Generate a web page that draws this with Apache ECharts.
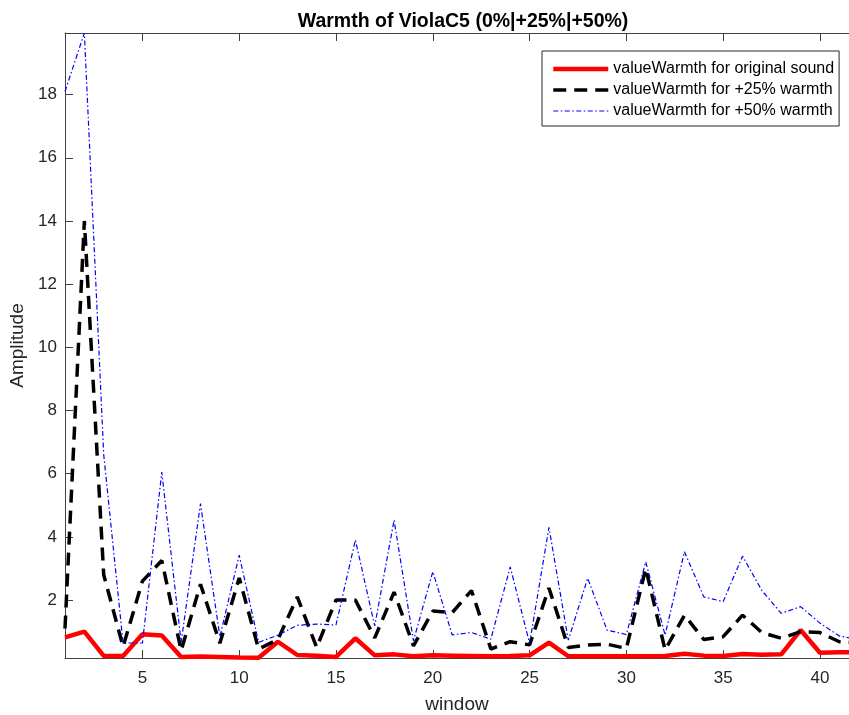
<!DOCTYPE html>
<html>
<head>
<meta charset="utf-8">
<script src="https://cdn.jsdelivr.net/npm/echarts@6/dist/echarts.min.js"></script>
<style>html,body{margin:0;padding:0;background:#fff}#c{width:849px;height:715px}</style>
</head>
<body>
<div id="c"></div>
<script>
const windows = [1,2,3,4,5,6,7,8,9,10,11,12,13,14,15,16,17,18,19,20,21,22,23,24,25,26,27,28,29,30,31,32,33,34,35,36,37,38,39,40,41,42];
const original = [0.82,1.0,0.23,0.23,0.92,0.88,0.2,0.21,0.2,0.18,0.17,0.68,0.26,0.24,0.2,0.79,0.25,0.28,0.22,0.25,0.24,0.23,0.22,0.23,0.25,0.65,0.22,0.22,0.22,0.22,0.22,0.23,0.3,0.24,0.23,0.29,0.27,0.28,1.05,0.33,0.35,0.35];
const warm25 = [1.1,14.0,2.8,0.52,2.6,3.25,0.4,2.5,0.63,2.7,0.45,0.75,2.1,0.5,2.0,2.0,0.8,2.25,0.55,1.65,1.6,2.3,0.45,0.68,0.58,2.38,0.5,0.58,0.6,0.47,3.0,0.42,1.52,0.75,0.84,1.52,0.97,0.79,1.0,0.97,0.68,0.65];
const warm50 = [18.1,19.95,6.6,0.64,0.64,6.05,0.66,5.05,0.84,3.42,0.66,0.89,1.2,1.24,1.21,3.9,1.18,4.53,0.71,2.9,0.9,0.97,0.76,3.05,0.63,4.3,0.73,2.69,1.05,0.91,3.21,0.89,3.53,2.1,1.95,3.39,2.3,1.58,1.79,1.27,0.86,0.75];
const xTicks = [5,10,15,20,25,30,35,40];
const yTicks = [2,4,6,8,10,12,14,16,18];
const seriesNames = ['valueWarmth for original sound','valueWarmth for +25% warmth','valueWarmth for +50% warmth'];

const FONT = '"Liberation Sans", Arial, Helvetica, sans-serif';
const AX = '#404040';
const pairs = arr => windows.map((w, i) => [w, arr[i]]);

const styles = [
  {color: '#ff0000', width: 4.5, type: 'solid'},
  {color: '#000000', width: 3.5, type: [13, 8]},
  {color: '#0000ff', width: 1.2, type: [5, 2.5, 1.5, 2.5]}
];
const hidden = {color: 'rgba(0,0,0,0)', borderColor: 'rgba(0,0,0,0)', borderWidth: 0, opacity: 0};

const chart = echarts.init(document.getElementById('c'), null, {renderer: 'canvas'});
chart.setOption({
  animation: false,
  backgroundColor: '#fff',
  title: {
    text: 'Warmth of ViolaC5 (0%|+25%|+50%)',
    left: 458, top: 7, textAlign: 'center',
    textStyle: {fontFamily: FONT, fontSize: 19.5, fontWeight: 'bold', color: '#000'}
  },
  legend: {
    orient: 'vertical', left: 542, top: 51,
    padding: [10, 5, 7, 9], itemGap: 5,
    itemWidth: 55, itemHeight: 14,
    borderColor: '#262626', borderWidth: 1, backgroundColor: '#fff',
    itemStyle: hidden,
    textStyle: {fontFamily: FONT, fontSize: 16, color: '#000'},
    data: seriesNames.map((n, i) => ({name: n, itemStyle: hidden, lineStyle: {color: styles[i].color, width: styles[i].width, type: styles[i].type}}))
  },
  grid: {left: 65, right: 0, top: 33, bottom: 57, containLabel: false, outerBoundsMode: 'none'},
  xAxis: [{
    type: 'value', min: 1, max: 41.5, position: 'bottom',
    name: 'window', nameLocation: 'middle', nameGap: 37,
    nameTextStyle: {fontFamily: FONT, fontSize: 19, color: '#262626'},
    axisLine: {show: true, onZero: false, lineStyle: {color: AX, width: 1}},
    axisTick: {show: true, inside: true, length: 8, customValues: xTicks, lineStyle: {color: AX}},
    axisLabel: {show: true, margin: 12, customValues: xTicks, fontFamily: FONT, fontSize: 17, color: '#262626'},
    splitLine: {show: false}
  }, {
    type: 'value', min: 1, max: 41.5, position: 'top',
    axisLine: {show: true, onZero: false, lineStyle: {color: AX, width: 1}},
    axisTick: {show: true, inside: true, length: 8, customValues: xTicks, lineStyle: {color: AX}},
    axisLabel: {show: false},
    splitLine: {show: false}
  }],
  yAxis: [{
    type: 'value', min: 0.165, max: 19.95,
    name: 'Amplitude', nameLocation: 'middle', nameGap: 28, nameRotate: 90,
    nameTextStyle: {fontFamily: FONT, fontSize: 19, color: '#262626'},
    axisLine: {show: true, onZero: false, lineStyle: {color: AX, width: 1}},
    axisTick: {show: true, inside: true, length: 8, customValues: yTicks, lineStyle: {color: AX}},
    axisLabel: {show: true, margin: 8, customValues: yTicks, fontFamily: FONT, fontSize: 17, color: '#262626'},
    splitLine: {show: false}
  }],
  series: [original, warm25, warm50].map((arr, i) => ({
    name: seriesNames[i], type: 'line', data: pairs(arr), symbol: 'none', clip: true,
    lineStyle: {color: styles[i].color, width: styles[i].width, type: styles[i].type},
    itemStyle: {color: styles[i].color}
  }))
});
</script>
</body>
</html>
